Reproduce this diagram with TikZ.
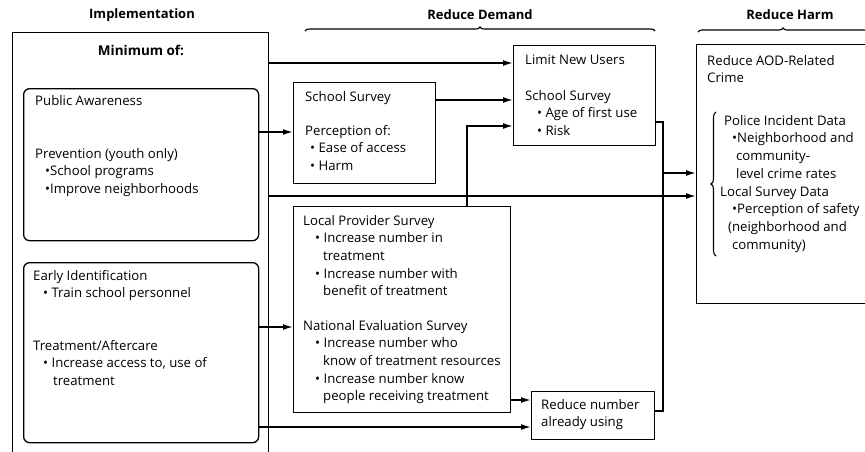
\documentclass[tikz,border=0pt]{standalone}
\usepackage{fontspec}
\setmainfont{Open Sans}
\usetikzlibrary{arrows.meta,decorations.pathreplacing,calc}
\begin{document}
\begin{tikzpicture}[x=1pt,y=-1pt,
  box/.style={draw,line width=1.3pt,inner sep=0pt,anchor=north west},
  rbox/.style={box,rounded corners=6pt},
  txt/.style={anchor=north west,align=left,inner sep=0pt,font=\fontsize{13.2}{17.6}\selectfont},
  hdr/.style={inner sep=0pt,font=\bfseries\fontsize{13}{15}\selectfont},
  conn/.style={line width=1.6pt,-{Latex[length=10pt,width=6pt]}},
  wire/.style={line width=1.6pt},
  brc/.style={line width=1.1pt,decorate,decoration={brace,amplitude=4pt}}]
\useasboundingbox (0,0) rectangle (865,451);
% headers
\node[hdr] (hImpl) at (142,15) {Implementation};
\node[hdr] (hDem) at (480,15) {Reduce Demand};
\node[hdr] (hHarm) at (790,15) {Reduce Harm};
\coordinate (bdA) at (305,31); \coordinate (bdB) at (655,31);
\coordinate (bhA) at (698,32); \coordinate (bhB) at (868,32);
\draw[brc] (bdA) -- (bdB);
\draw[brc] (bhA) -- (bhB);
% boxes
\node[box,minimum width=256pt,minimum height=440pt] (impl) at (12,32) {};
\node[rbox,minimum width=235pt,minimum height=152pt] (pa) at (23,88) {};
\node[rbox,minimum width=235pt,minimum height=180pt] (eid) at (23,262) {};
\node[box,minimum width=142pt,minimum height=101pt] (ss) at (293,82) {};
\node[box,minimum width=217pt,minimum height=206pt] (lps) at (293,206) {};
\node[box,minimum width=142pt,minimum height=100pt] (lnu) at (513,45) {};
\node[box,minimum width=123pt,minimum height=48pt] (rnu) at (531,391) {};
\node[box,minimum width=175pt,minimum height=259pt] (harm) at (696,44) {};
% texts
\node[hdr,font=\bfseries\fontsize{13.5}{15}\selectfont] (tMin) at (141,50) {Minimum of:};
\node[txt] (tPA) at (35,95) {Public Awareness};
\node[txt] (tPrev) at (35,148) {Prevention (youth only)\\\hspace*{10pt}\textbullet School programs\\\hspace*{10pt}\textbullet Improve neighborhoods};
\node[txt] (tEID) at (33,270) {Early Identification\\\hspace*{10pt}\textbullet\ Train school personnel};
\node[txt] (tTrt) at (33,340) {Treatment/Aftercare\\\hspace*{10pt}\textbullet\ Increase access to, use of\\\hspace*{20pt}treatment};
\node[txt] (tSS) at (305,91) {School Survey};
\node[txt] (tPer) at (305,125) {Perception of:\\\hspace*{5pt}\textbullet\ Ease of access\\\hspace*{5pt}\textbullet\ Harm};
\node[txt] (tLNU) at (525,55) {Limit New Users};
\node[txt] (tLSS) at (525,90) {School Survey\\\hspace*{12pt}\textbullet\ Age of first use\\\hspace*{12pt}\textbullet\ Risk};
\node[txt] (tLPS) at (303,215) {Local Provider Survey\\\hspace*{12pt}\textbullet\ Increase number in\\\hspace*{20pt}treatment\\\hspace*{12pt}\textbullet\ Increase number with\\\hspace*{20pt}benefit of treatment};
\node[txt] (tNES) at (303,320) {National Evaluation Survey\\\hspace*{12pt}\textbullet\ Increase number who\\\hspace*{20pt}know of treatment resources\\\hspace*{12pt}\textbullet\ Increase number know\\\hspace*{20pt}people receiving treatment};
\node[txt] (tRNU) at (541,399) {Reduce number\\already using};
\node[txt] (tAOD) at (707,55) {Reduce AOD-Related\\Crime};
\node[txt] (tPol) at (724,115) {Police Incident Data\\\hspace*{8pt}\textbullet Neighborhood and\\\hspace*{12pt}community-\\\hspace*{12pt}level crime rates};
\node[txt] (tLoc) at (720,186) {Local Survey Data\\\hspace*{12pt}\textbullet Perception of safety\\\hspace*{8pt}(neighborhood and\\\hspace*{12pt}community)};
\coordinate (brT) at (716,112); \coordinate (brB) at (716,256);
\draw[brc,decoration={brace,amplitude=5pt}] (brB) -- (brT);
% level coordinates
\coordinate (y63) at (0,63);
\coordinate (y100) at (0,100);
\coordinate (y122) at (0,122);
\coordinate (y126) at (0,126);
\coordinate (y132) at (0,132);
\coordinate (y173) at (0,173);
\coordinate (y196) at (0,196);
\coordinate (y327) at (0,327);
\coordinate (y400) at (0,400);
\coordinate (y411) at (0,411);
\coordinate (y427) at (0,427);
\coordinate (xv1) at (467,0);
\coordinate (xv2) at (663,0);
% connectors
\draw[conn] (impl.east |- y63) -- (lnu.west |- y63);
\draw[conn] (pa.east |- y132) -- (ss.west |- y132);
\draw[conn] (ss.east |- y100) -- (lnu.west |- y100);
\draw[conn] (lps.north -| xv1) |- (lnu.west |- y126);
\draw[conn] (impl.east |- y196) -- (harm.west |- y196);
\draw[conn] (eid.east |- y327) -- (lps.west |- y327);
\draw[conn] (eid.east |- y427) -- (rnu.west |- y427);
\draw[conn] (lps.east |- y400) -- (rnu.west |- y400);
\draw[wire] (lnu.east |- y122) -| (xv2 |- y411) -- (rnu.east |- y411);
\coordinate (j173) at (xv2 |- y173);
\draw[conn] (j173) -- (harm.west |- y173);
\end{tikzpicture}
\end{document}
